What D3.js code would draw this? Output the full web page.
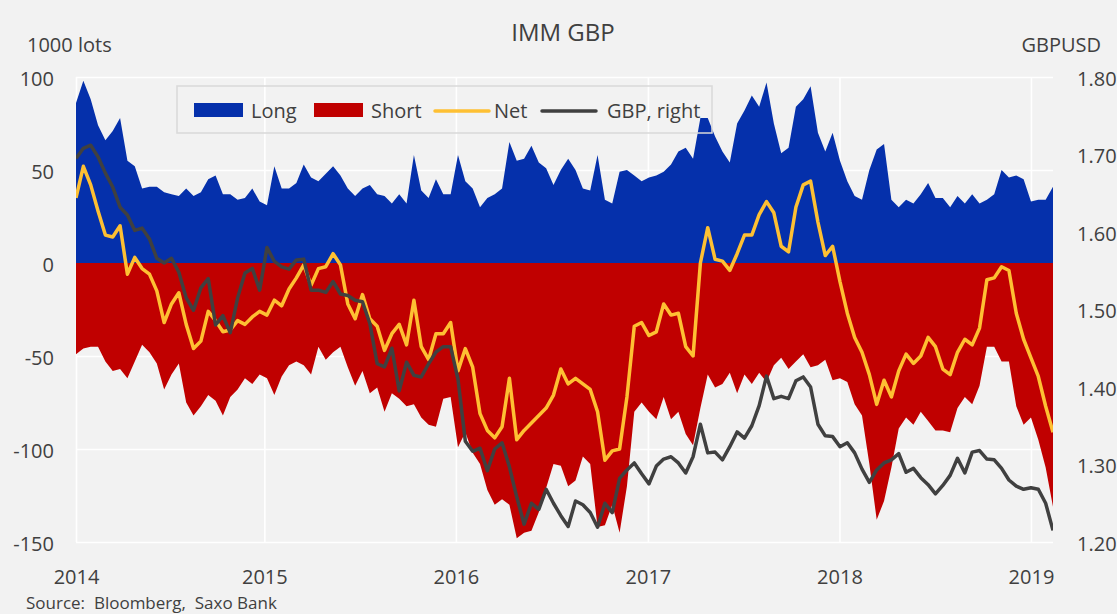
<!DOCTYPE html>
<html lang="en">
<head>
<meta charset="UTF-8" />
<title>IMM GBP</title>
<script src="https://cdnjs.cloudflare.com/ajax/libs/d3/7.8.5/d3.min.js"></script>
<style>
  body { margin: 0; background: #f2f2f2; }
  svg { display: block; font-family: "Open Sans", sans-serif; }
  .lbl { fill: #404040; }
</style>
</head>
<body>
<svg id="svg" width="1117" height="614"></svg>
<script>
// weekly COT data sampled every 2 weeks, first point 7 Jan 2014
const startDate = new Date(2014, 0, 7)
const stepDays = 14

// Long positions, 1000 lots
const longPos = [86,98,88,74,66,71,78,55,52,40, 41,41,38,37,36,40,36,38,45,47,
  37,37,34,35,40,33,31,52,40,40, 43,53,46,44,48,52,47,40,36,40,
  42,37,36,32,37,32,58,39,35,45, 37,37,58,44,40,30,35,37,40,65,
  55,56,63,54,51,42,50,56,50,40, 39,58,34,32,49,50,47,44,46,47,
  49,53,60,62,56,78,78,68,60,54, 75,82,90,84,97,75,59,62,84,88,
  95,70,60,70,55,44,36,34,50,61, 64,34,30,34,32,37,43,35,35,30,
  36,32,37,32,34,37,50,46,47,45, 33,34,34,41]

// Short positions, 1000 lots
const shortPos = [-49,-46,-45,-45,-53,-58,-57,-62,-53,-44, -48,-54,-68,-60,-54,-75,-82,-77,-71,-74,
  -82,-72,-68,-62,-65,-60,-62,-71,-61,-55, -53,-55,-60,-45,-52,-48,-45,-56,-66,-58,
  -70,-67,-80,-70,-73,-77,-76,-83,-87,-88, -73,-72,-99,-91,-102,-108,-122,-130,-127,-130,
  -148,-145,-144,-134,-121,-108,-109,-120,-117,-104, -108,-142,-141,-130,-145,-120,-80,-75,-80,-84,
  -72,-84,-80,-92,-98,-78,-60,-67,-65,-59, -70,-60,-65,-59,-64,-55,-51,-57,-53,-49,
  -56,-55,-52,-63,-62,-64,-76,-82,-108,-138, -128,-110,-89,-83,-87,-80,-85,-90,-90,-91,
  -78,-72,-76,-66,-45,-45,-53,-53,-77,-87, -83,-95,-110,-131]

// Net positions, 1000 lots
const netPos = [35,52,42,28,15,14,20,-6,3,-3, -6,-15,-32,-22,-16,-33,-46,-42,-26,-31,
  -37,-36,-31,-33,-29,-26,-28,-20,-23,-14, -8,-1,-12,-3,-2,5,-1,-22,-30,-17,
  -30,-34,-47,-38,-33,-44,-20,-45,-52,-38, -38,-32,-58,-46,-56,-81,-90,-94,-88,-62,
  -95,-90,-86,-82,-78,-71,-57,-65,-62,-65, -68,-80,-106,-101,-100,-72,-34,-32,-39,-37,
  -22,-28,-27,-45,-50,0,19,2,1,-4, 5,15,15,26,33,27,9,6,30,42,
  44,22,4,9,-10,-27,-40,-48,-60,-76, -63,-72,-58,-49,-54,-50,-40,-45,-57,-60,
  -48,-41,-44,-35,-9,-8,-2,-4,-27,-41, -51,-61,-77,-91]

// GBPUSD, right axis
const gbpusd = [1.695,1.708,1.712,1.697,1.676,1.658,1.632,1.622,1.602,1.605,
  1.591,1.566,1.560,1.566,1.548,1.515,1.499,1.528,1.540,1.480,
  1.492,1.470,1.515,1.547,1.553,1.525,1.580,1.562,1.555,1.552,
  1.564,1.565,1.525,1.525,1.522,1.536,1.520,1.518,1.512,1.510,
  1.482,1.430,1.426,1.450,1.395,1.432,1.415,1.413,1.430,1.445,
  1.452,1.452,1.410,1.330,1.317,1.321,1.292,1.320,1.328,1.297,
  1.258,1.223,1.250,1.242,1.268,1.250,1.234,1.220,1.253,1.248,
  1.238,1.219,1.250,1.238,1.282,1.293,1.302,1.288,1.275,1.298,
  1.307,1.310,1.302,1.289,1.310,1.352,1.315,1.316,1.306,1.323,
  1.342,1.334,1.350,1.376,1.414,1.385,1.388,1.385,1.408,1.413,
  1.400,1.352,1.337,1.336,1.323,1.328,1.315,1.294,1.277,1.293,
  1.302,1.306,1.314,1.290,1.295,1.283,1.274,1.262,1.273,1.286,
  1.308,1.289,1.316,1.318,1.307,1.306,1.295,1.280,1.272,1.268,
  1.270,1.268,1.250,1.215]

const leftTicks = [100, 50, 0, -50, -100, -150]
const rightTicks = [1.8, 1.7, 1.6, 1.5, 1.4, 1.3, 1.2]
const legendItems = ["Long", "Short", "Net", "GBP, right"]

const colors = { long: "#0530ab", short: "#c00000", net: "#fec033", gbp: "#404040" }

const dates = d3.range(longPos.length).map(i => d3.timeDay.offset(startDate, i * stepDays))
const rows = dates.map((d, i) => ({ date: d, long: longPos[i], short: shortPos[i], net: netPos[i], gbp: gbpusd[i] }))

const m = { left: 76, right: 1053, top: 77, bottom: 542 }

const x = d3.scaleTime().domain(d3.extent(dates)).range([m.left, m.right]).clamp(true)
const yL = d3.scaleLinear().domain([-150, 100]).range([m.bottom, m.top])
const yR = d3.scaleLinear().domain([1.2, 1.8]).range([m.bottom, m.top])

const svg = d3.select("#svg")
svg.append("rect").attr("width", 1117).attr("height", 614).attr("fill", "#f2f2f2")

svg.append("clipPath").attr("id", "plot")
  .append("rect").attr("x", m.left).attr("y", m.top).attr("width", m.right - m.left).attr("height", m.bottom - m.top)

// gridlines
const years = d3.timeYear.range(new Date(2014, 0, 1), new Date(2019, 1, 1))
svg.append("g").attr("transform", `translate(${m.left},0)`)
  .call(d3.axisLeft(yL).tickValues(leftTicks).tickSize(-(m.right - m.left)).tickFormat(""))
  .call(g => g.select(".domain").remove())
  .call(g => g.selectAll("line").attr("stroke", "#fff").attr("stroke-width", 1.6))
svg.append("g").attr("transform", `translate(0,${m.bottom})`)
  .call(d3.axisBottom(x).tickValues(years).tickSize(-(m.bottom - m.top)).tickFormat(""))
  .call(g => g.select(".domain").remove())
  .call(g => g.selectAll("line").attr("stroke", "#fff").attr("stroke-width", 1.6))

const plot = svg.append("g").attr("clip-path", "url(#plot)")

// areas
plot.append("path").datum(rows)
  .attr("fill", colors.long)
  .attr("d", d3.area().x(d => x(d.date)).y0(yL(0)).y1(d => yL(d.long)))
plot.append("path").datum(rows)
  .attr("fill", colors.short)
  .attr("d", d3.area().x(d => x(d.date)).y0(yL(0)).y1(d => yL(d.short)))

// lines
plot.append("path").datum(rows)
  .attr("fill", "none").attr("stroke", colors.net).attr("stroke-width", 3.5).attr("stroke-linejoin", "round")
  .attr("d", d3.line().x(d => x(d.date)).y(d => yL(d.net)))
plot.append("path").datum(rows)
  .attr("fill", "none").attr("stroke", colors.gbp).attr("stroke-width", 3.5).attr("stroke-linejoin", "round")
  .attr("d", d3.line().x(d => x(d.date)).y(d => yR(d.gbp)))

// axes labels
svg.append("g").attr("transform", `translate(${m.left},0)`)
  .call(d3.axisLeft(yL).tickValues(leftTicks).tickSize(0).tickPadding(22).tickFormat(d => String(d)))
  .call(g => g.select(".domain").remove())
  .call(g => g.selectAll("text").attr("class", "lbl").attr("dy", "0.4em").style("font-size", "20px").style("font-family", "Open Sans"))
svg.append("g").attr("transform", `translate(${m.right},0)`)
  .call(d3.axisRight(yR).tickValues(rightTicks).tickSize(0).tickPadding(24).tickFormat(d3.format(".2f")))
  .call(g => g.select(".domain").remove())
  .call(g => g.selectAll("text").attr("class", "lbl").attr("dy", "0.4em").style("font-size", "20px").style("font-family", "Open Sans"))
svg.append("g").attr("transform", `translate(0,${m.bottom})`)
  .call(d3.axisBottom(x).tickValues(years).tickSize(0).tickPadding(28).tickFormat(d3.timeFormat("%Y")))
  .call(g => g.select(".domain").remove())
  .call(g => g.selectAll("text").attr("class", "lbl").style("font-size", "20px").style("font-family", "Open Sans"))

// titles
svg.append("text").attr("class", "lbl").attr("x", 563).attr("y", 41).attr("text-anchor", "middle")
  .style("font-size", "24px").text("IMM GBP")
svg.append("text").attr("class", "lbl").attr("x", 27).attr("y", 52).style("font-size", "20px").text("1000 lots")
svg.append("text").attr("class", "lbl").attr("x", 1101).attr("y", 52).attr("text-anchor", "end")
  .style("font-size", "20px").text("GBPUSD")
svg.append("text").attr("class", "lbl").attr("x", 26).attr("y", 609).style("font-size", "17px")
  .style("white-space", "pre").text("Source:  Bloomberg,  Saxo Bank")

// legend
const legend = svg.append("g")
legend.append("rect").attr("x", 177).attr("y", 86).attr("width", 535).attr("height", 47)
  .attr("fill", "none").attr("stroke", "#d9d9d9").attr("stroke-width", 1.5)
const itemX = [194, 314, 435, 542]
const textX = [251, 371, 494, 607]
legendItems.forEach((name, i) => {
  if (i < 2) {
    legend.append("rect").attr("x", itemX[i]).attr("y", 103).attr("width", 49).attr("height", 14)
      .attr("fill", i === 0 ? colors.long : colors.short)
  } else {
    legend.append("line").attr("x1", itemX[i]).attr("x2", itemX[i] + 54).attr("y1", 111).attr("y2", 111)
      .attr("stroke", i === 2 ? colors.net : colors.gbp).attr("stroke-width", 3.5).attr("stroke-linecap", "round")
  }
  legend.append("text").attr("class", "lbl").attr("x", textX[i]).attr("y", 118).style("font-size", "20px").text(name)
})
</script>
</body>
</html>
